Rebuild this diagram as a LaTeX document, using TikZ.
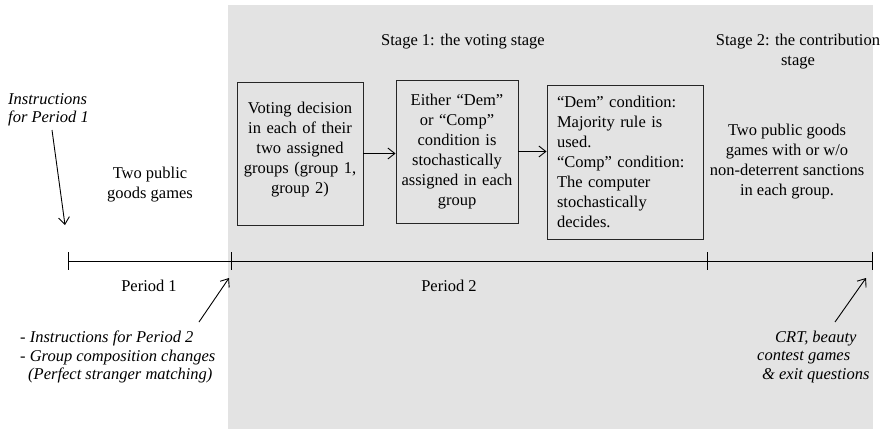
\documentclass[tikz,border=0pt]{standalone}
\usepackage{fontspec}
\setmainfont{Liberation Serif}
\usetikzlibrary{arrows.meta,calc}
\definecolor{bg}{RGB}{227,227,227}
\begin{document}
\begin{tikzpicture}[x=1pt,y=-1pt,
  every node/.style={font=\fontsize{16.5}{20}\selectfont, inner sep=0pt},
  stepbox/.style={draw=black!85, line width=0.9pt, fill=bg, align=center, inner xsep=4pt, inner ysep=0pt},
  arr/.style={-{Straight Barb[length=7pt,width=11pt]}, line width=0.9pt},
  ital/.style={font=\fontsize{16.5}{18.5}\selectfont\itshape, align=left},
  tline/.style={line width=0.9pt}
]
\useasboundingbox (0,0) rectangle (880,429);
\fill[bg] (228,5) rectangle (873,429);

% boxes
\node[stepbox, minimum width=126pt, minimum height=143pt] (b1) at (300,153.5) {};
\node[align=center, text width=118pt] (b1t) at ($(b1.center)+(0,-4)$)
  {Voting decision\\ in each of their\\ two assigned\\ groups (group 1,\\ group 2)};
\node[stepbox, text width=114pt, minimum height=143pt] (b2) at (457,151.5)
  {Either “Dem”\\ or “Comp”\\ condition is\\ stochastically\\ assigned in each\\ group};
\node[stepbox, align=left, inner xsep=10pt, text width=136pt, minimum height=154pt] (b3) at (625,162)
  {“Dem” condition:\\ Majority rule is\\ used.\\ “Comp” condition:\\ The computer\\ stochastically\\ decides.};

\draw[arr] (b1.east) -- (b1.east -| b2.west);
\draw[arr] (b2.east) -- (b2.east -| b3.west);

% timeline
\coordinate (t0) at (68,261);
\coordinate (t1) at (231,261);
\coordinate (t2) at (707,261);
\coordinate (t3) at (872,261);
\draw[tline] (t0) -- (t3);
\foreach \c in {t0,t1,t2,t3} \draw[tline] ($(\c)+(0,-9)$) -- ($(\c)+(0,9)$);

% labels
\node (p1) at (149,286) {Period 1};
\node (p2) at (449,286) {Period 2};
\node[align=center] (pg1) at (150,185) {Two public\\ goods games};
\node (s1) at (463,42) {Stage 1: the voting stage};
\node[align=center] (s2) at (798,52) {Stage 2: the contribution\\ stage};
\node[align=center] (pg2) at (787,161.5) {Two public goods\\ games with or w/o\\ non-deterrent sanctions\\ in each group.};

% italic notes
\node[ital, anchor=west] (i1) at (8,110) {Instructions\\ for Period 1};
\node[ital, anchor=west] (i2) at (20,357) {- Instructions for Period 2\\ - Group composition changes\\ \hspace*{8pt}(Perfect stranger matching)};
\node[ital, anchor=west] (i3) at (757,357) {\hspace*{18pt}CRT, beauty\\ contest games\\ \hspace*{5pt}\& exit questions};

% arrows
\coordinate (a1s) at (52,130);
\coordinate (a1e) at (65,225);
\draw[arr] (a1s) -- (a1e);
\coordinate (a2s) at (199,322);
\coordinate (a2e) at (229,278);
\draw[arr] (a2s) -- (a2e);
\coordinate (a3s) at (835,322);
\coordinate (a3e) at (866,278);
\draw[arr] (a3s) -- (a3e);
\end{tikzpicture}
\end{document}
